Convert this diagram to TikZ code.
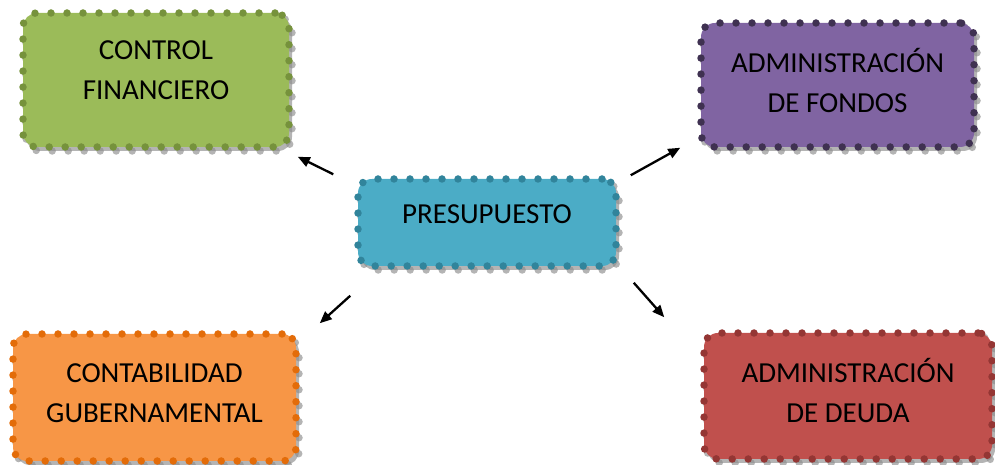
\documentclass[tikz,border=0pt]{standalone}
\usepackage{fontspec}
\setmainfont{Carlito}
\usetikzlibrary{arrows.meta}
\definecolor{gfill}{HTML}{9BBB59}\definecolor{gdot}{HTML}{76923C}
\definecolor{pfill}{HTML}{8064A2}\definecolor{pdot}{HTML}{3F3151}
\definecolor{bfill}{HTML}{4BACC6}\definecolor{bdot}{HTML}{31849B}
\definecolor{ofill}{HTML}{F79646}\definecolor{odot}{HTML}{E36C09}
\definecolor{rfill}{HTML}{C0504D}\definecolor{rdot}{HTML}{943634}
\tikzset{
  dotbox/.style={rectangle, rounded corners=14pt, line width=7.5pt, line cap=round,
    dash pattern=on 0pt off 16pt, align=center, inner sep=0pt,
    font=\fontsize{29}{40}\selectfont, text=black,
    preaction={draw=black!45, fill=black!45, opacity=0.65,
      transform canvas={xshift=3pt, yshift=-4pt}}},
  arr/.style={-{Triangle[length=12pt,width=10pt]}, line width=2.3pt, black}
}
\begin{document}
\begin{tikzpicture}[x=1pt,y=1pt]
\useasboundingbox (0,0) rectangle (995,465);
\node[dotbox, draw=gdot, fill=gfill, minimum width=266pt, minimum height=134pt, text depth=20pt] (c) at (156,385) {CONTROL\\FINANCIERO};
\node[dotbox, draw=pdot, fill=pfill, minimum width=273pt, minimum height=124pt, text depth=9pt] (f) at (837.5,380) {ADMINISTRACIÓN\\DE FONDOS};
\node[dotbox, draw=bdot, fill=bfill, minimum width=258pt, minimum height=87pt, text depth=16pt] (p) at (487,242.5) {PRESUPUESTO};
\node[dotbox, draw=odot, fill=ofill, minimum width=283pt, minimum height=127pt, text depth=9pt] (g) at (154.5,67.5) {CONTABILIDAD\\GUBERNAMENTAL};
\node[dotbox, draw=rdot, fill=rfill, minimum width=288pt, minimum height=126pt, text depth=12pt] (d) at (848,69) {ADMINISTRACIÓN\\DE DEUDA};
\draw[arr] ([shift={(-21pt,1pt)}]p.north west) -- ([shift={(5pt,-6pt)}]c.south east);
\draw[arr] ([shift={(11pt,0pt)}]p.north east) -- ([shift={(-17pt,3pt)}]f.south west);
\draw[arr] ([shift={(-4pt,-26pt)}]p.south west) -- ([shift={(20pt,7pt)}]g.north east);
\draw[arr] ([shift={(14pt,-13pt)}]p.south east) -- ([shift={(-36pt,12pt)}]d.north west);
\end{tikzpicture}
\end{document}
